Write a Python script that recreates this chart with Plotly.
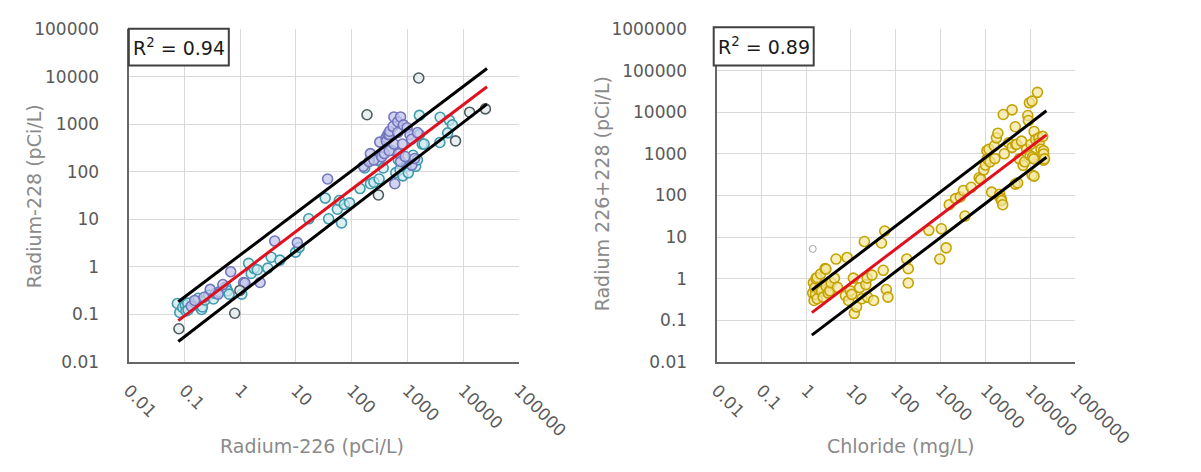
import plotly.graph_objects as go

W, H = 1201, 472

# ---------------- Left panel data: Radium-226 vs Radium-228 (pCi/L) ----------------
ra226_teal = [0.075, 0.083, 0.093, 0.104, 0.107, 0.115, 0.117, 0.173, 0.177, 0.204, 0.211,
              0.236, 0.272, 0.333, 0.363, 0.419, 0.558, 0.596, 0.635, 1.07, 1.42, 1.58, 1.79,
              2.03, 3.13, 3.61, 5.17, 9.87, 11.4, 17.0, 33.5, 38.6, 55.3, 60, 65.7, 73.7, 91.5,
              141, 171, 217, 250, 289, 306, 310, 367, 513, 618, 684, 734, 824, 979, 1035,
              1183, 1259, 1402, 1507, 1633, 1633, 1837, 1986, 3846, 3800, 5610, 6380, 5250]
ra228_teal = [0.17, 0.11, 0.14, 0.156, 0.118, 0.173, 0.124, 0.156, 0.219, 0.127, 0.144,
              0.202, 0.255, 0.212, 0.275, 0.298, 0.375, 0.313, 0.267, 0.267, 1.19, 0.73, 0.925,
              0.875, 0.946, 1.6, 1.39, 2.05, 2.58, 10.3, 28.1, 10.3, 16.4, 25, 8.45, 20.7, 22.3,
              44.7, 121, 56.4, 60.8, 179, 175, 71, 121, 285, 96.6, 179, 113, 82.8, 131, 96,
              141, 224, 131, 179, 1550, 614, 386, 386, 1416, 418, 1233, 977, 665]

ra226_purple = [0.133, 0.153, 0.225, 0.291, 0.404, 0.491, 0.678, 1.15, 1.22, 2.28, 4.17,
                10.6, 37.0, 162, 205, 216, 249, 318, 344, 385, 413, 418, 444, 470, 470, 477,
                549, 571, 571, 592, 667, 667, 694, 750, 750, 811, 843, 910, 984, 1107, 1183,
                1197, 1343, 1510]
ra228_purple = [0.149, 0.197, 0.23, 0.337, 0.267, 0.426, 0.793, 0.47, 0.46, 0.47, 3.51,
                3.25, 71, 131, 165, 243, 178, 424, 208, 244, 527, 444, 615, 614, 279, 718,
                903, 1436, 386, 56.4, 1138, 674, 243, 165, 1436, 386, 977, 211, 849, 614, 488,
                139, 192, 674]

ra226_gray = [0.080, 0.80, 0.99, 188, 301, 1592, 7260, 13000, 24900]
ra228_gray = [0.05, 0.106, 0.32, 1600, 32.8, 9500, 450, 1811, 2124]

# fitted line and bounds (left)
fit1_x = [0.078, 26600]
fit1_y = [0.074, 6220]
up1_y = [0.185, 15000]
lo1_y = [0.027, 2670]

# ---------------- Right panel data: Chloride (mg/L) vs Radium 226+228 ----------------
chloride = [1.4, 1.45, 1.5, 1.55, 1.62, 1.65, 1.76, 1.76, 1.9, 2.07, 2.1, 2.2, 2.4, 2.64,
            2.77, 2.8, 3.1, 3.36, 3.6, 4.28, 4.65, 5.0, 7.55, 8.2, 8.85, 9.6, 10.4, 11.3, 11.9,
            13.3, 15.6, 17.5, 19.9, 21.5, 23.4, 23, 29.5, 32, 48, 52.5, 56.7, 61.5, 66.8, 176,
            190, 190, 546, 962, 1040, 1330, 1560, 2150, 2750, 3230, 3500, 4830, 7240, 7850,
            9200, 10000, 10800, 11000, 12000, 12700, 13800, 15800, 16200, 17600, 19000, 20700,
            20900, 22400, 22900, 24300, 25000, 26400, 33100, 39400, 39400, 46400, 46400, 47900,
            50000, 52500, 57500, 64000, 69200, 75300, 83200, 88500, 91200, 96000, 100000,
            104000, 110000, 110000, 113000, 120000, 122000, 122000, 132000, 145000, 156000,
            158000, 174000, 190000, 199000, 199000, 200000, 209000]
ra_total = [0.45, 0.8, 0.3, 0.6, 0.42, 1.0, 0.33, 1.07, 0.55, 0.61, 1.3, 0.5, 0.36, 1.74,
            1.7, 0.65, 0.45, 0.51, 0.8, 1.03, 2.96, 0.62, 0.39, 3.24, 0.3, 0.51, 0.42, 1.03, 0.147,
            0.21, 0.61, 0.33, 7.8, 0.72, 0.36, 1.03, 1.22, 0.30, 7.2, 1.59, 14, 0.55, 0.36, 2.96,
            1.74, 0.79, 14.5, 2.96, 15.8, 5.5, 60, 84, 92, 132, 32, 157, 266, 243,
            413, 538, 1190, 757, 1290, 644, 120, 1540, 768, 2420, 3130, 92,
            107, 84, 75, 60, 8800, 1000, 1840, 1430, 11400, 4470, 187, 1680,
            1700, 200, 757, 2020, 530, 644, 1290, 8300, 6300, 16800, 903,
            1700, 18500, 311, 840, 757, 3430, 291, 2190, 30000, 2420,
            1840, 1290, 2620, 1190, 700, 987, 757]

chloride_odd = [1.4]
ra_odd = [5.2]

fit2_x = [1.34, 230000]
fit2_y = [0.153, 2860]
up2_y = [0.53, 10800]
lo2_y = [0.044, 830]

# ---------------- ticks ----------------
tick1_vals = [0.01, 0.1, 1, 10, 100, 1000, 10000, 100000]
tick1_text = ["0.01", "0.1", "1", "10", "100", "1000", "10000", "100000"]
tick2_vals = [0.01, 0.1, 1, 10, 100, 1000, 10000, 100000, 1000000]
tick2_text = ["0.01", "0.1", "1", "10", "100", "1000", "10000", "100000", "1000000"]

FONT = "DejaVu Sans"
TICK_COLOR = "#595959"
TITLE_COLOR = "#8a8a8a"
GRID = "#d9d9d9"
AXIS = "#666666"

fig = go.Figure()

def pts(x, y, line, fill, xa, ya, size=10, width=1.6):
    fig.add_trace(go.Scatter(x=x, y=y, mode="markers", xaxis=xa, yaxis=ya,
                             marker=dict(symbol="circle", size=size, color=fill,
                                         line=dict(color=line, width=width)),
                             showlegend=False, hoverinfo="skip"))

def line(x, y, color, xa, ya):
    fig.add_trace(go.Scatter(x=x, y=y, mode="lines", xaxis=xa, yaxis=ya,
                             line=dict(color=color, width=3), showlegend=False,
                             hoverinfo="skip"))

# left panel
pts(ra226_teal, ra228_teal, "#3f9aad", "rgba(205,234,240,0.7)", "x", "y")
pts(ra226_purple, ra228_purple, "#7276bd", "rgba(196,198,236,0.75)", "x", "y")
pts(ra226_gray, ra228_gray, "#4f5c60", "rgba(225,234,236,0.75)", "x", "y")
line(fit1_x, up1_y, "#000000", "x", "y")
line(fit1_x, lo1_y, "#000000", "x", "y")
line(fit1_x, fit1_y, "#e0101e", "x", "y")

# right panel
pts(chloride, ra_total, "#c4a300", "rgba(243,231,160,0.7)", "x2", "y2")
pts(chloride_odd, ra_odd, "#a6a6a6", "rgba(255,255,255,0)", "x2", "y2", size=7, width=1)
line(fit2_x, up2_y, "#000000", "x2", "y2")
line(fit2_x, lo2_y, "#000000", "x2", "y2")
line(fit2_x, fit2_y, "#e0101e", "x2", "y2")

def px(v):
    return v / W

def py(v):
    return 1 - v / H

common_x = dict(type="log", showgrid=True, gridcolor=GRID, gridwidth=1, showline=True,
                linecolor=AXIS, linewidth=2, ticks="", tickangle=45, zeroline=False,
                tickfont=dict(family=FONT, size=17, color=TICK_COLOR), ticklabelstandoff=10)
common_y = dict(type="log", showgrid=True, gridcolor=GRID, gridwidth=1, showline=True,
                linecolor=AXIS, linewidth=2, ticks="", zeroline=False,
                tickfont=dict(family=FONT, size=17, color=TICK_COLOR), ticklabelstandoff=24)

fig.update_layout(
    width=W, height=H, margin=dict(l=0, r=0, t=0, b=0),
    paper_bgcolor="white", plot_bgcolor="white",
    xaxis=dict(common_x, range=[-2, 5], domain=[px(126.7), px(540.7)],
               tickvals=tick1_vals, ticktext=tick1_text, anchor="y"),
    yaxis=dict(common_y, range=[-2, 5], domain=[py(367.5), py(20.3)],
               tickvals=tick1_vals, ticktext=tick1_text, anchor="x"),
    xaxis2=dict(common_x, range=[-2, 6], domain=[px(750), px(1130)],
                tickvals=tick2_vals, ticktext=tick2_text, anchor="y2"),
    yaxis2=dict(common_y, range=[-2, 6], domain=[py(367.5), py(19.8)],
                tickvals=tick2_vals, ticktext=tick2_text, anchor="x2"),
)

# R^2 boxes
fig.add_shape(type="rect", xref="paper", yref="paper", x0=px(127), x1=px(233),
              y0=py(58), y1=py(19.5), line=dict(color="#404040", width=2),
              fillcolor="white", layer="above")
fig.add_shape(type="rect", xref="paper", yref="paper", x0=px(747), x1=px(853),
              y0=py(58), y1=py(18), line=dict(color="#404040", width=2),
              fillcolor="white", layer="above")

ann = []
ann.append(dict(x=px(180), y=py(39), text="R<sup>2</sup> = 0.94"))
ann.append(dict(x=px(800), y=py(38), text="R<sup>2</sup> = 0.89"))
for a in ann:
    a.update(xref="paper", yref="paper", showarrow=False, xanchor="center", yanchor="middle",
             font=dict(family=FONT, size=19, color="#1a1a1a"))
titles = [
    dict(x=px(321), y=py(455), text="Radium-226 (pCi/L)", textangle=0),
    dict(x=px(945), y=py(455), text="Chloride (mg/L)", textangle=0),
    dict(x=px(26), y=py(195), text="Radium-228 (pCi/L)", textangle=-90),
    dict(x=px(628), y=py(192), text="Radium 226+228 (pCi/L)", textangle=-90),
]
for t in titles:
    t.update(xref="paper", yref="paper", showarrow=False, xanchor="center", yanchor="middle",
             font=dict(family=FONT, size=19, color=TITLE_COLOR))
fig.update_layout(annotations=ann + titles)

fig.write_html("out.html")
